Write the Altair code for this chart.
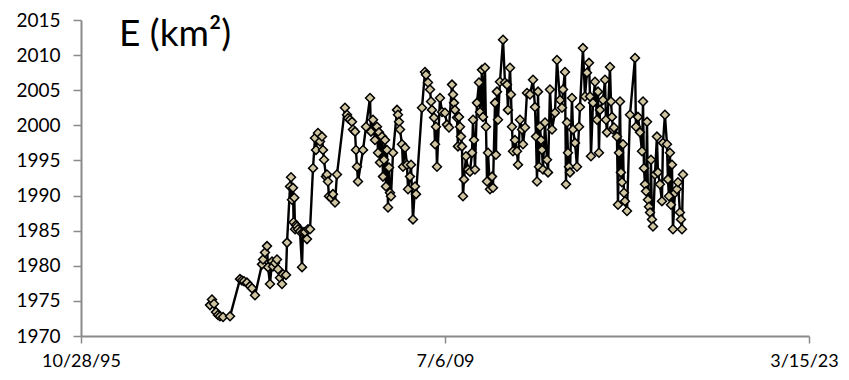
import altair as alt
import pandas as pd

# Excel serial dates (days) and E values
serial = [
    36772, 36799, 36827, 36854, 36882, 36909, 36951, 37047, 37184, 37211,
    37239, 37280, 37321, 37349, 37390, 37486, 37500, 37527, 37555, 37569,
    37596, 37624, 37637, 37665, 37692, 37706, 37733, 37761, 37775, 37816,
    37830, 37871, 37885, 37898, 37912, 37920, 37930, 37940, 37953, 37967,
    37981, 38008, 38036, 38049, 38077, 38104, 38118, 38146, 38187, 38214,
    38228, 38255, 38283, 38310, 38324, 38338, 38365, 38379, 38392, 38406,
    38434, 38461, 38489, 38516, 38626, 38654, 38668, 38695, 38722, 38736,
    38764, 38777, 38791, 38805, 38874, 38915, 38970, 38983, 39011, 39038,
    39066, 39080, 39093, 39107, 39135, 39148, 39162, 39176, 39189, 39203,
    39217, 39231, 39244, 39258, 39286, 39341, 39354, 39368, 39382, 39409,
    39423, 39451, 39478, 39492, 39519, 39533, 39560, 39588, 39602, 39684,
    39725, 39739, 39766, 39794, 39808, 39821, 39849, 39863, 39876, 39890,
    39931, 39959, 40000, 40027, 40055, 40096, 40110, 40124, 40137, 40165,
    40178, 40192, 40206, 40220, 40233, 40247, 40261, 40288, 40316, 40343,
    40371, 40385, 40398, 40412, 40439, 40467, 40481, 40508, 40522, 40549,
    40563, 40577, 40591, 40618, 40646, 40659, 40687, 40700, 40714, 40728,
    40755, 40797, 40824, 40851, 40865, 40893, 40906, 40920, 40934, 40961,
    40989, 41003, 41030, 41058, 41071, 41099, 41126, 41167, 41209, 41236,
    41250, 41264, 41278, 41291, 41305, 41319, 41332, 41346, 41374, 41401,
    41415, 41442, 41470, 41511, 41538, 41580, 41607, 41621, 41648, 41662,
    41676, 41689, 41703, 41717, 41744, 41758, 41786, 41813, 41841, 41854,
    41895, 41923, 41950, 41978, 41992, 42005, 42033, 42060, 42088, 42102,
    42115, 42129, 42170, 42198, 42211, 42225, 42266, 42280, 42294, 42308,
    42321, 42362, 42376, 42390, 42404, 42417, 42431, 42445, 42458, 42472,
    42500, 42541, 42610, 42623, 42651, 42678, 42706, 42720, 42733, 42747,
    42761, 42775, 42788, 42802, 42816, 42829, 42843, 42857, 42884, 42911,
    42925, 42952, 42980, 42994, 43021, 43049, 43062, 43076, 43090, 43104,
    43118, 43131, 43159, 43186, 43200, 43227, 43241, 43255, 43269,
]

values = [
    1974.4, 1975.2, 1974.6, 1973.4, 1973.0, 1972.8, 1972.7, 1972.8, 1978.1, 1977.9,
    1977.8, 1977.6, 1977.1, 1976.8, 1975.8, 1980.2, 1980.9, 1981.9, 1982.8, 1979.8,
    1977.4, 1980.6, 1979.9, 1980.4, 1980.9, 1979.5, 1978.3, 1977.4, 1978.8, 1978.7,
    1983.3, 1991.3, 1992.6, 1989.4, 1991.1, 1986.2, 1989.7, 1985.2, 1985.8, 1985.6,
    1985.2, 1984.9, 1979.8, 1984.8, 1984.8, 1983.8, 1985.2, 1985.2, 1993.9, 1998.2,
    1996.5, 1998.9, 1997.7, 1998.4, 1996.5, 1995.1, 1992.7, 1993.0, 1992.0, 1989.9,
    1989.7, 1990.2, 1989.0, 1993.0, 2002.5, 2001.5, 2001.0, 2000.8, 2000.5, 1999.4,
    1999.1, 1996.5, 1994.1, 1992.0, 1996.5, 1999.8, 2003.9, 1999.1, 2000.8, 1997.9,
    1999.8, 1996.1, 1999.0, 1994.7, 1998.4, 1992.7, 1995.1, 1997.9, 1991.3, 1996.5,
    1988.3, 1994.0, 1990.4, 1989.9, 1996.1, 2002.2, 2001.5, 2000.5, 1999.4, 1997.3,
    1994.1, 1996.8, 1994.4, 1990.9, 1992.7, 1994.4, 1986.6, 1991.3, 1990.2, 2002.5,
    2007.6, 2007.2, 2006.1, 2005.1, 2003.4, 2002.2, 2001.1, 1997.3, 1999.8, 1994.1,
    2003.9, 2001.9, 2001.8, 2000.1, 1999.7, 2005.8, 2004.4, 2003.2, 2002.2, 2001.1,
    1997.0, 2001.2, 1999.8, 1998.4, 1997.0, 1989.9, 1992.3, 1995.6, 1993.7, 1993.4,
    1996.1, 2000.8, 1997.9, 1993.7, 2003.2, 2006.1, 2001.9, 2007.9, 2001.2, 2008.2,
    1999.8, 1992.0, 1996.1, 1990.9, 1992.7, 1991.1, 2003.2, 1995.8, 2004.8, 2000.8,
    2006.2, 2012.2, 2006.1, 2005.8, 2002.2, 2008.2, 2004.4, 1999.8, 1996.3, 1997.9,
    1996.3, 1994.4, 2000.8, 1999.4, 1997.3, 1999.7, 2004.6, 2004.4, 2006.5, 2002.6,
    1998.4, 1992.0, 2004.8, 1994.1, 1999.8, 1997.9, 1996.5, 1993.7, 2000.4, 1995.1,
    1993.3, 2005.1, 1999.4, 2001.8, 2009.3, 2003.6, 2002.5, 2005.1, 2007.6, 1991.6,
    2000.4, 1996.1, 1994.1, 1993.3, 2003.9, 1999.4, 1997.5, 1994.1, 1999.8, 2002.6,
    2011.0, 2004.1, 2007.5, 2008.9, 2004.1, 1995.6, 2003.2, 2006.2, 2000.8, 2004.8,
    1996.1, 2002.2, 2003.6, 2006.5, 2000.8, 1999.0, 2008.3, 2003.4, 2001.2, 1999.4,
    1999.7, 1998.4, 1988.7, 1996.1, 2003.4, 1993.3, 1991.9, 1997.3, 1990.4, 1989.2,
    1987.8, 2001.5, 2009.6, 1999.8, 2001.2, 1999.0, 1996.3, 2003.4, 1993.9, 1991.6,
    1990.6, 2000.5, 1989.4, 1988.4, 1987.6, 1995.1, 1986.6, 1985.6, 1993.0, 1998.4,
    1993.3, 1991.6, 1989.2, 1997.5, 2001.5, 1997.3, 1992.3, 1989.9, 1996.1, 1988.7,
    1994.4, 1985.2, 1990.4, 1990.9, 1991.9, 1987.6, 1986.6, 1985.2, 1993.0,
]

x_ticks = [35000, 40000, 45000]
y_ticks = [1970, 1975, 1980, 1985, 1990, 1995, 2000, 2005, 2010, 2015]
title_text = ["E (km²)"]

df = pd.DataFrame({"serial": serial, "E": values})

FONT = "Lato"
AXIS_GREY = "#8a8a8a"

x_enc = alt.X(
    "serial:Q",
    scale=alt.Scale(domain=[35000, 45000], nice=False, zero=False),
    axis=alt.Axis(
        values=x_ticks,
        labelExpr="utcFormat((datum.value - 25569) * 86400000, '%-m/%-d/%y')",
        title=None, grid=False,
        domainColor=AXIS_GREY, domainWidth=2,
        tickColor=AXIS_GREY, tickWidth=1.5, tickSize=7,
        labelFont=FONT, labelFontSize=18, labelColor="black",
        labelPadding=9, labelFlush=False, labelOverlap=False,
        labelOffset={"condition": {"test": "datum.value == 45000", "value": -5}, "value": 0},
    ),
)
y_enc = alt.Y(
    "E:Q",
    scale=alt.Scale(domain=[1970, 2015], nice=False, zero=False),
    axis=alt.Axis(
        values=y_ticks, format="d",
        title=None, grid=False,
        domainColor=AXIS_GREY, domainWidth=2,
        tickColor=AXIS_GREY, tickWidth=1.5, tickSize=8,
        labelFont=FONT, labelFontSize=19, labelColor="black",
        labelPadding=13, labelFlush=False, labelOverlap=False,
    ),
)

base = alt.Chart(df).encode(x=x_enc, y=y_enc)

line = base.mark_line(color="black", strokeWidth=2.4)
pts = base.mark_point(
    shape="diamond", filled=True, fill="#cfc5a1", stroke="black",
    strokeWidth=1.5, size=80, opacity=1,
)

title = alt.Chart(pd.DataFrame({"t": title_text})).mark_text(
    align="left", baseline="alphabetic", font=FONT, fontSize=37, color="black"
).encode(text="t:N", x=alt.value(38), y=alt.value(26))

chart = alt.layer(line, pts, title).properties(
    width=728, height=316,
    autosize="none",
    padding={"left": 73, "top": 12, "right": 32, "bottom": 40},
).configure_view(stroke=None)

chart.save("out.html", embed_options={"renderer": "svg", "actions": False})
